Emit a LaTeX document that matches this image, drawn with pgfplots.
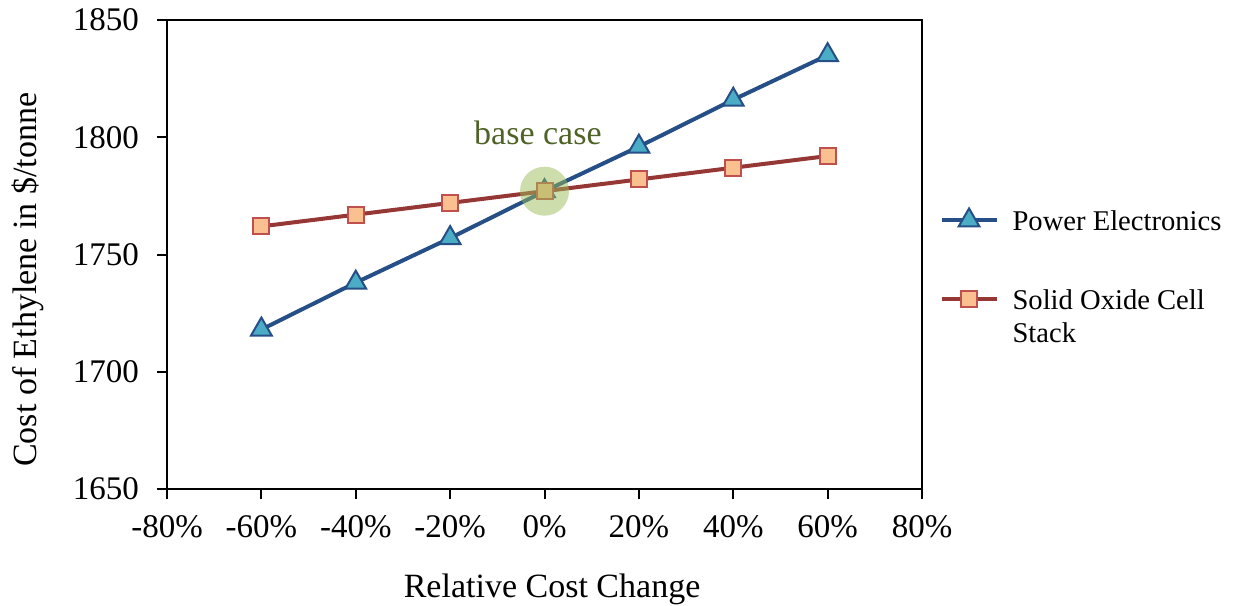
\documentclass[border=0pt]{standalone}
\usepackage{pgfplots}
\pgfplotsset{compat=1.18}
\usepackage{fontspec}
\setmainfont{Liberation Serif}
\definecolor{peline}{RGB}{37,79,134}
\definecolor{pefill}{RGB}{75,172,198}
\definecolor{soline}{RGB}{149,55,53}
\definecolor{sofill}{RGB}{250,192,144}
\definecolor{soedge}{RGB}{192,80,77}
\definecolor{basegreen}{RGB}{155,187,89}
\definecolor{basetext}{RGB}{79,98,40}
\begin{document}
\begin{tikzpicture}
\begin{axis}[
  name=ax,
  scale only axis,
  width=377.5pt, height=234.5pt,
  xmin=-80, xmax=80, ymin=1650, ymax=1850,
  xtick={-80,-60,...,80},
  xticklabels={-80\%,-60\%,-40\%,-20\%,0\%,20\%,40\%,60\%,80\%},
  ytick={1650,1700,...,1850},
  /pgf/number format/assume math mode=true,
  /pgf/number format/set thousands separator={},
  tick pos=left, tick align=outside,
  major tick length=5pt,
  axis line style={line width=1pt},
  every tick/.style={black, line width=1pt},
  ticklabel style={font=\fontsize{16.5}{19.8}\selectfont},
  yticklabel style={xshift=-5.5pt},
  xticklabel style={yshift=-4.5pt},
  xlabel={Relative Cost Change},
  ylabel={Cost of Ethylene in \$/tonne},
  label style={font=\fontsize{17}{20.4}\selectfont},
  every axis x label/.append style={at={(ticklabel cs:0.51,11.5pt)}},
  every axis y label/.append style={at={(ticklabel cs:0.446,7.5pt)}},
  legend cell align=left,
  legend style={draw=none, fill=none, at={(1.0227,0.603)}, anchor=north west,
    font=\fontsize{14.3}{16.5}\selectfont, cells={anchor=base west},
    row sep=24pt, column sep=5pt, inner sep=0pt},
  legend image code/.code={
    \draw[mark repeat=2,mark phase=2] plot coordinates {(0pt,5pt) (13.75pt,5pt) (27.5pt,5pt)};
  },
]
\addplot[peline, line width=2pt, mark=triangle*, mark size=6pt,
  mark options={fill=pefill, draw=peline, line width=1pt}]
  coordinates {(-60,1718) (-40,1738) (-20,1757) (0,1777) (20,1796) (40,1816) (60,1835)};
\addlegendentry{Power Electronics}
\addplot[soline, line width=2pt, mark=square*, mark size=4pt,
  mark options={fill=sofill, draw=soedge, line width=1pt}]
  coordinates {(-60,1762) (-40,1767) (-20,1772) (0,1777) (20,1782) (40,1787) (60,1792)};
\addlegendentry{\vtop{\hbox{Solid Oxide Cell}\hbox{Stack}}}
\addplot[forget plot, only marks, mark=*, mark size=12.25pt,
  mark options={fill=basegreen, fill opacity=0.5, draw opacity=0}]
  coordinates {(0,1777)};
\node[basetext, font=\fontsize{17}{20.4}\selectfont] at (axis cs:-1.4,1802) {base case};
\end{axis}
\pgfresetboundingbox
\path ([shift={(-83.5pt,-58pt)}]ax.south west) rectangle ([shift={(159pt,10pt)}]ax.north east);
\end{tikzpicture}
\end{document}
